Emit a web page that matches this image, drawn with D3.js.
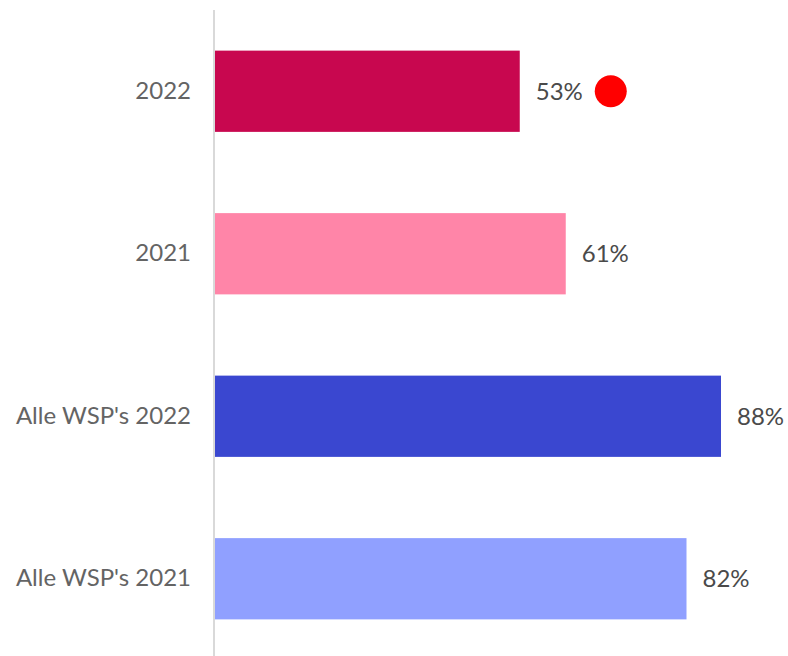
<!DOCTYPE html>
<html>
<head>
<meta charset="utf-8">
<script src="https://cdn.jsdelivr.net/npm/d3@7"></script>
<style>
  body { margin: 0; background: #fff; }
  svg text { font-family: "Lato", "Noto Sans", sans-serif; }
</style>
</head>
<body>
<div id="chart"></div>
<script>
// chart data
const categories = ["2022", "2021", "Alle WSP's 2022", "Alle WSP's 2021"];
const values = [53, 61, 88, 82];
const colors = ["#C8074F", "#FF85A8", "#3A47D0", "#90A0FF"];
const markedIndex = 0; // red dot after this bar

const width = 788;
const height = 656;
const margin = {left: 215, right: -2, top: 10, bottom: -4};

const svg = d3.select("#chart")
  .append("svg")
  .attr("width", width)
  .attr("height", height);

// scales
const xScale = d3.scaleLinear()
  .domain([0, 100])
  .range([margin.left, width - margin.right]);

const yScale = d3.scaleBand()
  .domain(categories)
  .range([margin.top, height - margin.bottom])
  .paddingInner(0.5)
  .paddingOuter(0.25);

// bars
svg.selectAll(".bar")
  .data(values)
  .enter()
  .append("rect")
    .attr("class", "bar")
    .attr("x", xScale(0))
    .attr("y", (d, i) => yScale(categories[i]))
    .attr("width", d => xScale(d) - xScale(0))
    .attr("height", yScale.bandwidth())
    .attr("fill", (d, i) => colors[i]);

// y axis (labels only, plus a light line)
const yAxis = svg.append("g")
  .attr("transform", `translate(${margin.left - 1},0)`)
  .call(d3.axisLeft(yScale).tickSize(0).tickPadding(23));
yAxis.select(".domain").remove();
yAxis.selectAll("text")
  .attr("font-size", "24px")
  .attr("fill", "#646464")
  .style("font-family", "Lato, 'Noto Sans', sans-serif");

svg.append("line")
  .attr("x1", margin.left - 1)
  .attr("x2", margin.left - 1)
  .attr("y1", margin.top)
  .attr("y2", height)
  .attr("stroke", "#d9d9d9")
  .attr("stroke-width", 2);

// value labels
svg.selectAll(".val")
  .data(values)
  .enter()
  .append("text")
    .attr("class", "val")
    .attr("x", d => xScale(d) + 16)
    .attr("y", (d, i) => yScale(categories[i]) + yScale.bandwidth() / 2)
    .attr("dy", "0.35em")
    .attr("font-size", "24px")
    .attr("fill", "#4a4a4a")
    .text(d => d + "%");

// red marker dot
svg.append("circle")
  .attr("cx", xScale(values[markedIndex]) + 91)
  .attr("cy", yScale(categories[markedIndex]) + yScale.bandwidth() / 2)
  .attr("r", 16)
  .attr("fill", "#FF0000");
</script>
</body>
</html>
